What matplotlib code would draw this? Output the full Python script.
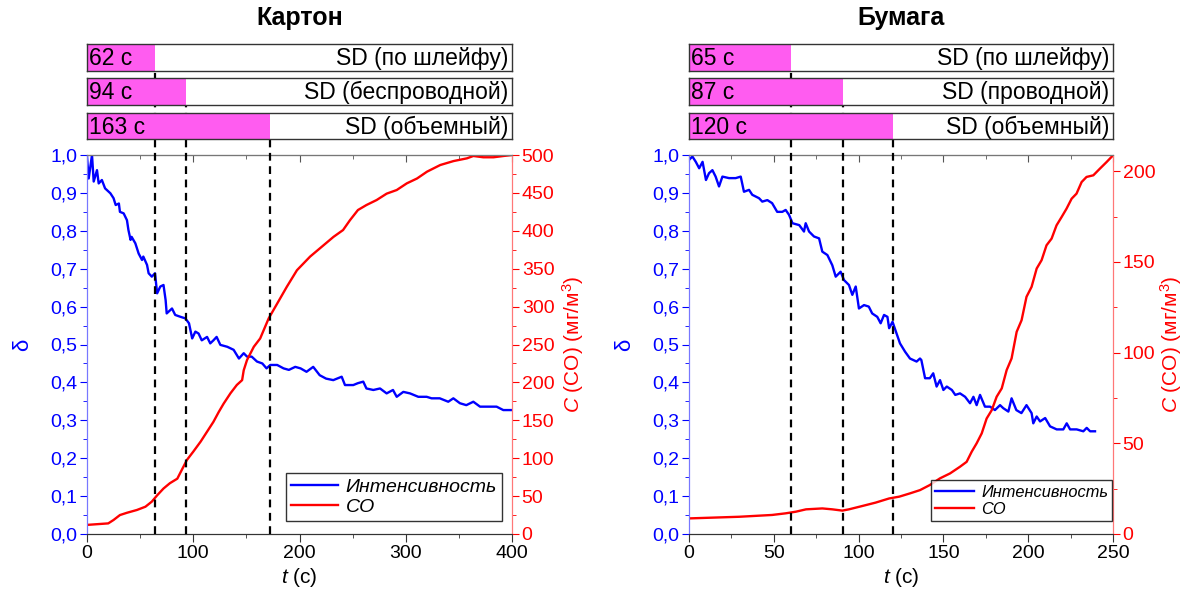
import matplotlib
matplotlib.use("Agg")
import matplotlib.pyplot as plt
from matplotlib.ticker import MultipleLocator, FuncFormatter

plt.rcParams['font.family'] = ['Liberation Sans', 'DejaVu Sans']
plt.rcParams['mathtext.fontset'] = 'custom'
plt.rcParams['mathtext.rm'] = 'Liberation Sans'
plt.rcParams['mathtext.it'] = 'Liberation Sans:italic'

# ---- Картон ----
t_karton = [0, 1.6, 4.7, 6.3, 9.4, 11, 14, 17, 22, 25, 27, 30, 31, 34.5, 37.6, 39, 41, 42,
            45.5, 48.6, 51.8, 53, 56.5, 58, 61, 64, 66, 69, 72, 74, 75, 80, 83, 88, 92.5, 96,
            99, 102, 105, 108, 113, 116, 119, 122, 125.5, 132, 138, 143, 147.5, 150.6, 155,
            160, 165, 169, 172.5, 179, 185, 190, 196, 201, 206.6, 212.9, 219, 225, 231.8,
            239.7, 242.8, 250.6, 255, 260, 263, 269.5, 275.8, 282, 288, 291.5, 297.7, 304,
            311.8, 319.7, 324.3, 332, 340, 344.8, 351, 357, 363.6, 369.9, 376, 385.5, 391.8,
            399.6]
d_karton = [0.995, 0.938, 1.0, 0.93, 0.96, 0.925, 0.934, 0.912, 0.899, 0.886, 0.868, 0.872,
            0.85, 0.846, 0.828, 0.802, 0.776, 0.784, 0.767, 0.740, 0.723, 0.732, 0.710, 0.688,
            0.679, 0.688, 0.635, 0.653, 0.657, 0.617, 0.582, 0.595, 0.578, 0.573, 0.569, 0.556,
            0.516, 0.534, 0.529, 0.511, 0.520, 0.503, 0.511, 0.520, 0.499, 0.494, 0.486, 0.463,
            0.477, 0.468, 0.468, 0.455, 0.450, 0.437, 0.446, 0.446, 0.437, 0.433, 0.441, 0.437,
            0.428, 0.441, 0.419, 0.410, 0.406, 0.415, 0.393, 0.393, 0.398, 0.402, 0.384, 0.380,
            0.384, 0.371, 0.380, 0.362, 0.375, 0.371, 0.362, 0.362, 0.358, 0.358, 0.349, 0.358,
            0.345, 0.340, 0.349, 0.336, 0.336, 0.336, 0.327, 0.327]
t_karton_co = [0, 20, 25, 31, 37.6, 47, 55, 61, 66, 72, 78, 85, 89, 94, 100, 107, 113, 119,
               124, 128.6, 135, 141, 146, 147.5, 150.6, 157, 163, 171, 179, 188, 197.6, 210,
               221, 232, 241, 247.5, 255, 263, 272.6, 282, 291.5, 301, 310.6, 320, 332.5, 345,
               357.6, 363.6, 373, 382.6, 392, 400]
co_karton = [12, 14, 18.5, 25, 28, 31.7, 36, 42.7, 51, 60, 67, 73, 84, 97.6, 108.6, 122, 135,
             148, 161, 172, 185.6, 196.6, 203, 216, 229.5, 247, 258, 284.5, 304, 326, 348, 366,
             379, 392, 401, 414, 427.4, 434, 440.6, 449, 453.8, 462.6, 469, 478, 486.8, 492,
             495.6, 498.7, 497, 497, 498.7, 500]
karton_times = [62, 94, 163]
karton_marks = [64, 93, 172]
karton_names = ['SD (по шлейфу)', 'SD (беспроводной)', 'SD (объемный)']

# ---- Бумага ----
t_bumaga = [0, 2, 4, 6, 8, 10, 11.8, 13.8, 15.7, 17.7, 19.7, 23.6, 27.5, 30.5, 32.4, 35.4,
            37.3, 41.3, 43.2, 46.2, 49, 52, 55, 57, 59, 61, 65, 67.8, 68.8, 70.8, 73.7, 76.7,
            78.6, 81.6, 84.5, 86.5, 89.4, 91.4, 94.3, 96.3, 98.3, 100.2, 103.2, 106, 108, 111,
            113, 115, 117, 118, 120, 122, 124.4, 127.4, 130.3, 134.2, 136.2, 137, 139.2, 142,
            144, 146, 148, 150, 152, 155, 157, 159.8, 162.8, 165.7, 167.7, 169.6, 171.6, 174.5,
            177.5, 180.4, 183.4, 185.3, 188.3, 190.2, 193, 196, 199, 202, 203, 205, 207, 210,
            212.9, 216.8, 220.7, 222.7, 224.7, 228.6, 232.5, 234.5, 236.5, 239.4]
d_bumaga = [0.987, 0.996, 0.982, 0.965, 0.982, 0.934, 0.952, 0.960, 0.943, 0.917, 0.943, 0.939,
            0.939, 0.943, 0.903, 0.908, 0.895, 0.886, 0.877, 0.881, 0.873, 0.850, 0.850, 0.855,
            0.842, 0.820, 0.815, 0.798, 0.820, 0.798, 0.785, 0.780, 0.745, 0.736, 0.709, 0.679,
            0.692, 0.670, 0.657, 0.631, 0.653, 0.595, 0.604, 0.600, 0.582, 0.573, 0.556, 0.578,
            0.573, 0.543, 0.560, 0.534, 0.503, 0.481, 0.463, 0.455, 0.463, 0.459, 0.411, 0.411,
            0.424, 0.389, 0.406, 0.380, 0.389, 0.380, 0.367, 0.371, 0.362, 0.345, 0.362, 0.340,
            0.367, 0.336, 0.336, 0.327, 0.340, 0.332, 0.323, 0.358, 0.327, 0.319, 0.340, 0.319,
            0.292, 0.310, 0.297, 0.306, 0.284, 0.276, 0.276, 0.292, 0.276, 0.276, 0.271, 0.280,
            0.271, 0.271]
t_bumaga_co = [0, 29.5, 49, 57, 63, 69, 78.6, 84.5, 90.4, 94.3, 102, 110, 118, 124, 130.3,
               136.2, 142, 148, 153.9, 159.8, 163.7, 166.7, 169.6, 172.6, 175.5, 178.5, 181.4,
               184.4, 187.3, 190.2, 193.2, 196.1, 199, 202, 205, 207.9, 210.8, 213.8, 216.7,
               219.7, 222.6, 225.6, 228.5, 231.5, 234.4, 238.4, 242.3, 246.2, 250]
co_bumaga = [8.6, 9.5, 10.5, 11.4, 12.3, 13.6, 14.1, 13.6, 12.9, 13.6, 15.4, 17.3, 19.6, 20.6,
             22.4, 24.2, 27, 30.7, 33.4, 37.1, 39.8, 45.4, 50, 55.5, 63.7, 68.3, 75.7, 80.3,
             90.4, 96.8, 111.5, 117.9, 130.8, 136.3, 146.4, 151, 159.2, 162.9, 170.2, 174.8,
             179.4, 184.9, 187.7, 194.1, 196.9, 197.8, 201.5, 205.1, 208.8]
bumaga_times = [65, 87, 120]
bumaga_marks = [60, 91, 120]
bumaga_names = ['SD (по шлейфу)', 'SD (проводной)', 'SD (объемный)']

W, H = 1189, 598
fig = plt.figure(figsize=(W / 100, H / 100), dpi=100)

BLUE = '#0000ff'
RED = '#ff0000'
MAGENTA = '#ff5cf0'
comma = FuncFormatter(lambda v, p: f"{v:.1f}".replace('.', ','))


def fr(x0, y0, x1, y1):
    # pixel box -> figure fraction
    return [x0 / W, 1 - y1 / H, (x1 - x0) / W, (y1 - y0) / H]


def panel(left, right, title, t_i, d_i, t_co, co, times, marks, names,
          xmax, xmaj, comax, legend_fs, leg_anchor, rpad):
    ax = fig.add_axes(fr(left, 155, right, 534))
    ax2 = ax.twinx()
    ax.plot(t_i, d_i, color=BLUE, lw=1.7, label='Интенсивность')
    ax2.plot(t_co, co, color=RED, lw=1.7, label='CO')

    ax.set_xlim(0, xmax)
    ax.set_ylim(0, 1.0)
    ax2.set_ylim(0, comax)
    ax.xaxis.set_major_locator(MultipleLocator(xmaj))
    ax.xaxis.set_minor_locator(MultipleLocator(xmaj / 2))
    ax.yaxis.set_major_locator(MultipleLocator(0.1))
    ax.yaxis.set_minor_locator(MultipleLocator(0.05))
    ax.yaxis.set_major_formatter(comma)
    ax2.yaxis.set_major_locator(MultipleLocator(50))
    ax2.yaxis.set_minor_locator(MultipleLocator(25))

    ax.tick_params(axis='x', which='both', direction='out', top=False,
                   labelsize=14, color='#333333', pad=2)
    ax.tick_params(axis='x', which='major', length=6)
    ax.tick_params(axis='x', which='minor', length=3)
    ax.tick_params(axis='y', which='both', direction='out', colors=BLUE, labelsize=14, pad=2)
    ax.tick_params(axis='y', which='major', length=5)
    ax.tick_params(axis='y', which='minor', length=3)
    ax2.tick_params(axis='y', which='both', direction='out', colors=RED, labelsize=14, pad=2)
    ax2.tick_params(axis='y', which='major', length=5)
    ax2.tick_params(axis='y', which='minor', length=3)

    top = ax.secondary_xaxis('top')
    top.xaxis.set_major_locator(MultipleLocator(xmaj))
    top.xaxis.set_minor_locator(MultipleLocator(xmaj / 2))
    top.tick_params(which='both', direction='in', labeltop=False, color='#555555')
    top.tick_params(which='major', length=5)
    top.tick_params(which='minor', length=3)
    top.spines['top'].set_color('#777777')

    for a in (ax, ax2):
        a.spines['left'].set_color('#7777ff')
        a.spines['right'].set_color('#ff7777')
        a.spines['bottom'].set_color('#333333')
        a.spines['top'].set_color('#777777')

    ax.set_xlabel('$t$ (с)', fontsize=15, labelpad=3)
    ax.set_ylabel('δ', fontsize=16, color=BLUE, labelpad=12)
    ax2.set_ylabel('$C$ (CO) (мг/м$^3$)', fontsize=15, color=RED, labelpad=rpad)

    leg_h = [ax.get_lines()[0], ax2.get_lines()[0]]
    leg = ax2.legend(leg_h, [h.get_label() for h in leg_h], loc='lower right',
                     bbox_to_anchor=leg_anchor, fontsize=legend_fs, frameon=True,
                     fancybox=False, edgecolor='black', handlelength=2.4,
                     borderpad=0.25, labelspacing=0.15, handletextpad=0.4,
                     borderaxespad=0)
    leg.get_frame().set_linewidth(1.0)
    for txt in leg.get_texts():
        txt.set_fontstyle('italic')

    # status bars above the plot
    rows = [(44, 71), (78, 105), (113, 139)]
    for (y0, y1), tm, mk, nm in zip(rows, times, marks, names):
        b = fig.add_axes(fr(left, y0, right, y1))
        b.set_xlim(0, xmax)
        b.set_ylim(0, 1)
        b.barh(0.5, mk, height=1.0, left=0, color=MAGENTA, edgecolor='none')
        b.set_xticks([])
        b.set_yticks([])
        for s in b.spines.values():
            s.set_color('#333333')
            s.set_linewidth(1.0)
        b.text(0.004, 0.45, f'{tm} с', transform=b.transAxes, ha='left',
               va='center', fontsize=16.5)
        b.text(0.992, 0.45, nm, transform=b.transAxes, ha='right',
               va='center', fontsize=16.5)
        frac = (534 - y0) / (534 - 155)
        ax2.axvline(mk, ymin=0, ymax=frac, color='black', lw=1.6,
                    ls=(0, (3.5, 2.5)), clip_on=False, zorder=10)

    fig.text((left + right) / 2 / W, 1 - 18 / H, title, ha='center', va='center',
             fontsize=18, fontweight='bold')


panel(87, 512, 'Картон', t_karton, d_karton, t_karton_co, co_karton,
      karton_times, karton_marks, karton_names, 400, 100, 500, 14, (0.976, 0.034), 4)
panel(689, 1113, 'Бумага', t_bumaga, d_bumaga, t_bumaga_co, co_bumaga,
      bumaga_times, bumaga_marks, bumaga_names, 250, 50, 209, 11.8, (0.998, 0.034), 2)

fig.savefig('out.png', dpi=100)
